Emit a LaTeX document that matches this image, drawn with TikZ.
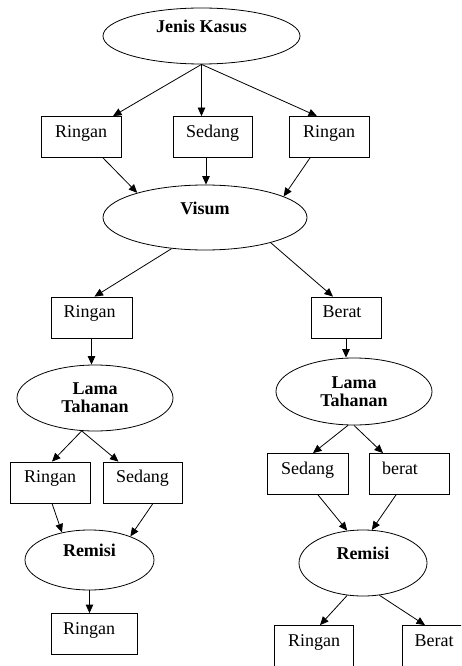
\documentclass[tikz,border=0pt]{standalone}
\usepackage{fontspec}
\setmainfont{Liberation Serif}
\usetikzlibrary{shapes.geometric,arrows.meta}
\begin{document}
\begin{tikzpicture}[x=1pt,y=-1pt,
  every node/.style={font=\fontsize{18}{18}\selectfont},
  box/.style={draw, rectangle, inner sep=0pt, text height=20.5pt, text depth=20.5pt, line width=0.8pt},
  ell/.style={draw, ellipse, inner sep=0pt, line width=0.8pt, font=\bfseries\fontsize{18}{18}\selectfont},
  ell1/.style={ell, text height=10pt, text depth=17pt},
  arr/.style={-{Triangle[length=8.5pt,width=7.5pt]}, line width=0.8pt}]
\useasboundingbox (0,0) rectangle (461,666);
\clip (0,0) rectangle (461,666);
\fill[white] (0,0) rectangle (461,666);

\node[ell1, minimum width=197pt, minimum height=56pt] (jk) at (201.5,36) {Jenis Kasus};
\node[box, minimum width=80pt] (r1) at (81,137) {Ringan};
\node[box, minimum width=79pt] (s1) at (212.5,137) {Sedang};
\node[box, minimum width=80pt] (r2) at (329,137) {Ringan};
\node[ell1, minimum width=204pt, minimum height=65pt] (vis) at (205,217.5) {Visum};
\node[box, minimum width=81pt] (r3) at (91.5,317.5) {\hspace*{-4pt}Ringan};
\node[box, minimum width=70pt] (b1) at (346,317.5) {\hspace*{-8pt}Berat};
\node[ell, align=center, minimum width=156pt, minimum height=66pt] (lt1) at (95,398) {Lama\\Tahanan};
\node[ell, align=center, minimum width=156pt, minimum height=67pt] (lt2) at (354,391.5) {Lama\\Tahanan};
\node[box, minimum width=80pt] (r4) at (50,482.5) {Ringan};
\node[box, minimum width=79pt] (s2) at (142.5,482.5) {Sedang};
\node[box, minimum width=81pt] (s3) at (307.5,474) {Sedang};
\node[box, minimum width=80pt] (b2) at (409,474) {\hspace*{-18pt}berat};
\node[ell1, minimum width=129pt, minimum height=60pt] (rm1) at (89.5,560) {Remisi};
\node[ell1, minimum width=128pt, minimum height=66pt] (rm2) at (363,563) {Remisi};
\node[box, minimum width=86pt] (r5) at (94,634) {\hspace*{-10pt}Ringan};
\node[box, minimum width=79pt] (r6) at (314,646) {Ringan};
\node[box, minimum width=64pt] (b3) at (434,646) {Berat};

\draw[arr] (jk.south) -- ([xshift=32pt]r1.north);
\draw[arr] (jk.south) -- ([xshift=-11pt]s1.north);
\draw[arr] (jk.south) -- ([xshift=-12pt]r2.north);
\draw[arr] ([xshift=22pt]r1.south) -- (vis.160);
\draw[arr] ([xshift=-6.5pt]s1.south) -- ([xshift=1pt]vis.north);
\draw[arr] ([xshift=-19pt]r2.south) -- (vis.15);
\draw[arr] (vis.223) -- ([xshift=3pt]r3.north);
\draw[arr] (vis.339) -- ([xshift=-13pt]b1.north);
\draw[arr] (r3.south) -- (r3.south |- lt1.north);
\draw[arr] (b1.south) -- (b1.south |- lt2.north);
\draw[arr] (lt1.248) -- ([xshift=2pt]r4.north);
\draw[arr] (lt1.248) -- ([xshift=-24pt]s2.north);
\draw[arr] (lt2.260) -- ([xshift=5.5pt]s3.north);
\draw[arr] (lt2.south) -- ([xshift=-26pt]b2.north);
\draw[arr] ([xshift=2pt]r4.south) -- (rm1.135);
\draw[arr] ([xshift=10.5pt]s2.south) -- (rm1.30);
\draw[arr] ([xshift=10.5pt]s3.south) -- (rm2.116);
\draw[arr] ([xshift=-13pt]b2.south) -- (rm2.75);
\draw[arr] (rm1.south) -- (rm1.south |- r5.north);
\draw[arr] (rm2.244) -- ([xshift=6pt]r6.north);
\draw[arr] (rm2.297) -- ([xshift=-9pt]b3.north);
\end{tikzpicture}
\end{document}
